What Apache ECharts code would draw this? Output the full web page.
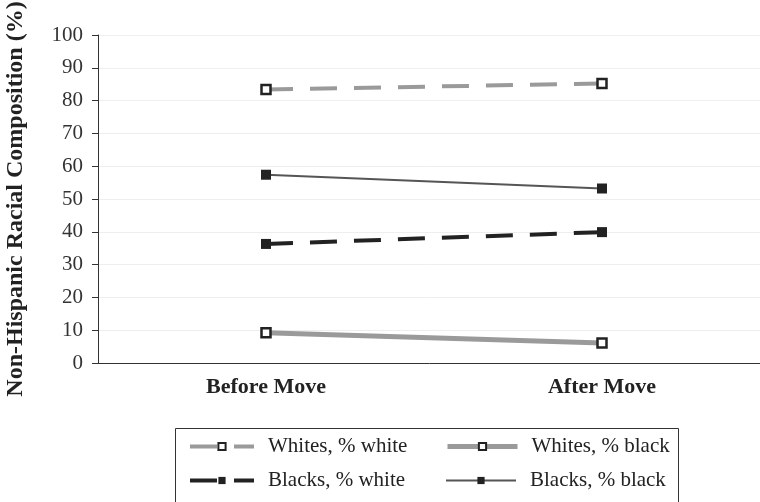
<!DOCTYPE html>
<html><head><meta charset="utf-8">
<script src="https://cdn.jsdelivr.net/npm/echarts@6/dist/echarts.min.js"></script>
<style>html,body{margin:0;padding:0;background:#fff}#c{width:760px;height:502px}</style>
</head><body><div id="c"></div>
<script>
var categories = ['Before Move', 'After Move'];
var whitesPctWhite = [83.4, 85.2];
var whitesPctBlack = [9.2, 6.1];
var blacksPctWhite = [36.3, 39.9];
var blacksPctBlack = [57.4, 53.2];
var yTicks = [0, 10, 20, 30, 40, 50, 60, 70, 80, 90, 100];
var seriesNames = ['Whites, % white', 'Whites, % black', 'Blacks, % white', 'Blacks, % black'];

var serif = 'Liberation Serif';
var chart = echarts.init(document.getElementById('c'));
function legendFor(name, left, top, iw, lw) {
  return {
    data: [name], left: left, top: top, itemWidth: iw, itemHeight: 9,
    padding: 0, selectedMode: false,
    lineStyle: { width: lw },
    textStyle: { fontFamily: serif, fontSize: 21, color: '#222', padding: [0, 0, 0, 9] }
  };
}
chart.setOption({
  animation: false,
  grid: { left: 98, top: 35, height: 328, width: 672, containLabel: false, outerBoundsMode: 'none' },
  legend: [
    legendFor(seriesNames[0], 188, 436, 64, 4),
    legendFor(seriesNames[1], 445, 436, 70, 5),
    legendFor(seriesNames[2], 188, 470, 64, 4),
    legendFor(seriesNames[3], 445, 470, 70, 2)
  ],
  graphic: [{
    type: 'rect', shape: { x: 175.5, y: 428.5, width: 503, height: 90 },
    style: { fill: 'none', stroke: '#333', lineWidth: 1 }
  }],
  xAxis: {
    type: 'category', data: categories, boundaryGap: true,
    axisLine: { lineStyle: { color: '#333', width: 1 } },
    axisTick: { length: 6, lineStyle: { color: '#333' } },
    axisLabel: { fontFamily: serif, fontWeight: 'bold', fontSize: 22, color: '#222', margin: 13 }
  },
  yAxis: {
    type: 'value', min: 0, max: 100, interval: 10,
    name: 'Non-Hispanic Racial Composition (%)', nameLocation: 'middle', nameGap: 70,
    nameTextStyle: { fontFamily: serif, fontWeight: 'bold', fontSize: 24, color: '#222' },
    axisLine: { show: true, lineStyle: { color: '#333', width: 1 } },
    axisTick: { show: true, length: 6, lineStyle: { color: '#333' } },
    axisLabel: { fontFamily: serif, fontSize: 21, color: '#333', margin: 15,
      formatter: function (v) { return yTicks.indexOf(v) >= 0 ? String(v) : ''; } },
    splitLine: { lineStyle: { color: '#eeeeee', width: 1 } }
  },
  series: [
    { name: seriesNames[0], type: 'line', data: whitesPctWhite,
      lineStyle: { color: '#9a9a9a', width: 4, type: [27, 17] },
      itemStyle: { color: '#ffffff', borderColor: '#222', borderWidth: 2.5 },
      symbol: 'rect', symbolSize: 9 },
    { name: seriesNames[1], type: 'line', data: whitesPctBlack,
      lineStyle: { color: '#9a9a9a', width: 5 },
      itemStyle: { color: '#ffffff', borderColor: '#222', borderWidth: 2.5 },
      symbol: 'rect', symbolSize: 9 },
    { name: seriesNames[2], type: 'line', data: blacksPctWhite,
      lineStyle: { color: '#222', width: 4, type: [27, 17] },
      itemStyle: { color: '#222', borderColor: '#222', borderWidth: 0 },
      symbol: 'rect', symbolSize: 10 },
    { name: seriesNames[3], type: 'line', data: blacksPctBlack,
      lineStyle: { color: '#555', width: 2 },
      itemStyle: { color: '#222', borderColor: '#222', borderWidth: 0 },
      symbol: 'rect', symbolSize: 10 }
  ]
});
</script></body></html>
